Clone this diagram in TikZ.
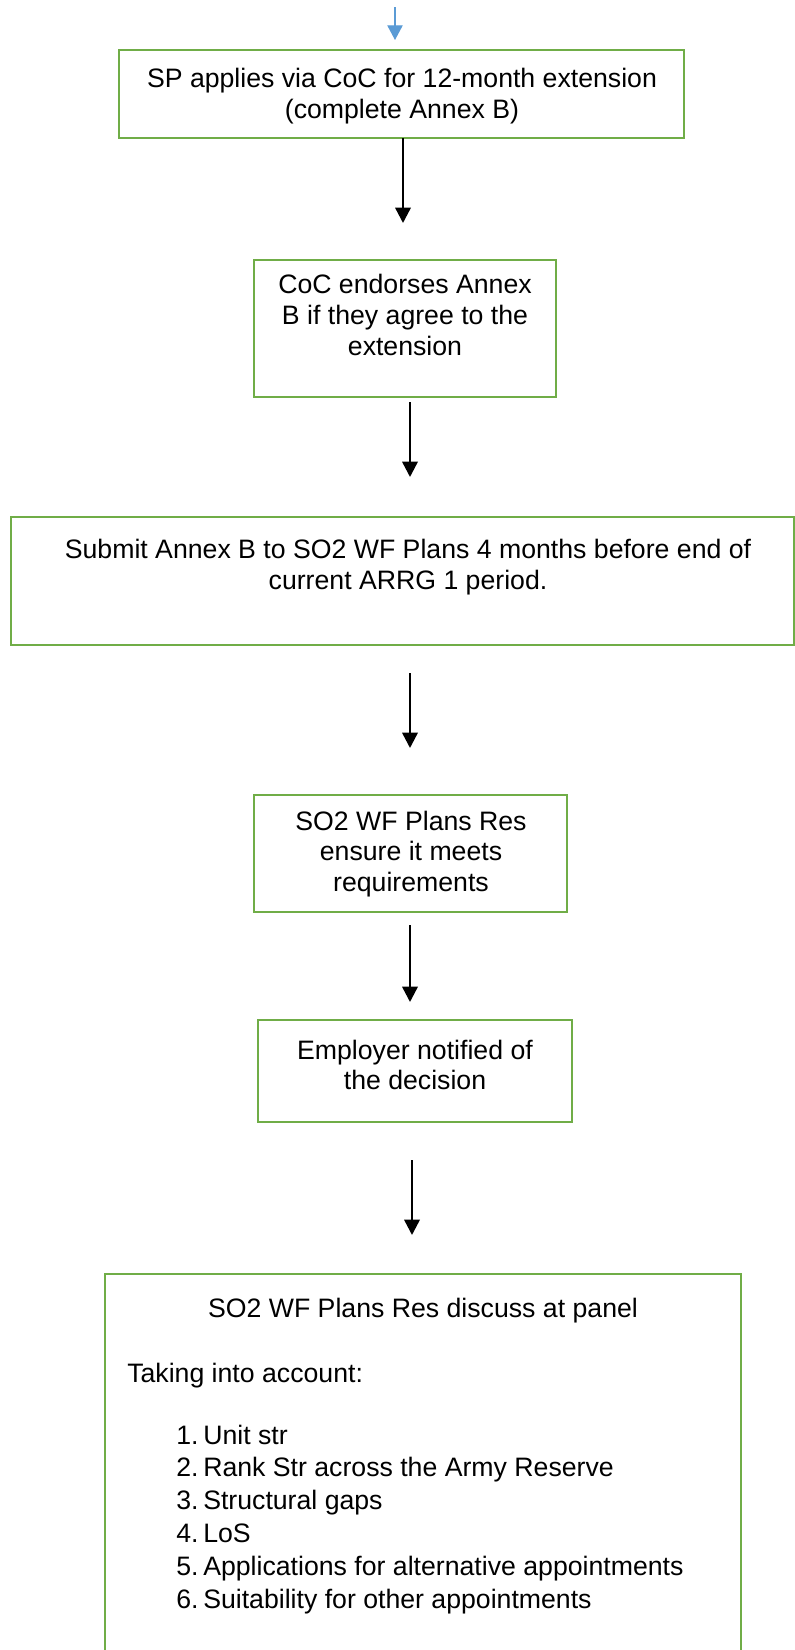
\documentclass[tikz,border=0pt]{standalone}
\usepackage{fontspec}
\setmainfont{Liberation Sans}
\usetikzlibrary{arrows.meta, positioning}
\definecolor{cgreen}{HTML}{70AD47}
\definecolor{cblue}{HTML}{5B9BD5}
\tikzset{
  box/.style={draw=cgreen, line width=1.5pt, inner sep=0pt},
  txt/.style={align=center, inner sep=0pt, font=\fontsize{20}{23}\selectfont},
  arrow/.style={-{Triangle[length=11.5pt, width=11.5pt]}, line width=1.8pt},
  inarrow/.style={-{Triangle[length=11pt, width=11.5pt]}, draw=cblue, fill=cblue, line width=0.9pt},
}

\begin{document}
\begin{tikzpicture}[x=0.75pt, y=-0.75pt]
  \useasboundingbox (0,0) rectangle (794,1650);
  % boxes
  \node[box, minimum width=423.75pt, minimum height=66pt] (b1) at (401.5,93.5) {};
  \node[box, minimum width=226.5pt, minimum height=102.75pt] (b2) at (405,328.5) {};
  \node[box, minimum width=587pt, minimum height=96pt] (b3) at (402.5,581) {};
  \node[box, minimum width=234.75pt, minimum height=87.75pt] (b4) at (410.5,853.5) {};
  \node[box, minimum width=235.5pt, minimum height=76.5pt] (b5) at (415,1071) {};
  \node[box, minimum width=477pt, minimum height=297pt] (b6) at (423,1472) {};
  % texts
  \node[txt] (t1) at (402,96) {SP applies via CoC for 12-month extension\\(complete Annex B)};
  \node[txt] (t2) at (405,315) {CoC endorses Annex\\B if they agree to the\\extension};
  \node[txt] (t3) at (408,567) {Submit Annex B to SO2 WF Plans 4 months before end of\\current ARRG 1 period.};
  \node[txt] (t4) at (411,854) {SO2 WF Plans Res\\ensure it meets\\requirements};
  \node[txt] (t5) at (415,1065) {Employer notified of\\the decision};
  \node[txt, anchor=base] (t6) at (423,1317) {SO2 WF Plans Res discuss at panel};
  \node[txt, anchor=base west] (tk) at (127,1382) {Taking into account:};
  \foreach \itm [count=\i] in {Unit str, Rank Str across the Army Reserve, Structural gaps, LoS,
      Applications for alternative appointments, Suitability for other appointments}{
    \node[txt, anchor=base west] (num\i) at (176,{1444+32.8*(\i-1)}) {\i.};
    \node[txt, anchor=base west] (item\i) at (203,{1444+32.8*(\i-1)}) {\itm};
  }
  % arrows
  \coordinate (a0) at (395,7);
  \coordinate (a0e) at (395,40);
  \coordinate (a1) at (403,138);
  \coordinate (a1e) at (403,223);
  \coordinate (a2) at (410,402);
  \coordinate (a2e) at (410,477);
  \coordinate (a3) at (410,673);
  \coordinate (a3e) at (410,748);
  \coordinate (a4) at (410,925);
  \coordinate (a4e) at (410,1002);
  \coordinate (a5) at (412,1160);
  \coordinate (a5e) at (412,1235);
  \draw[inarrow] (a0) -- (a0e);
  \foreach \k in {1,...,5}
    \draw[arrow] (a\k) -- (a\k e);
\end{tikzpicture}
\end{document}
